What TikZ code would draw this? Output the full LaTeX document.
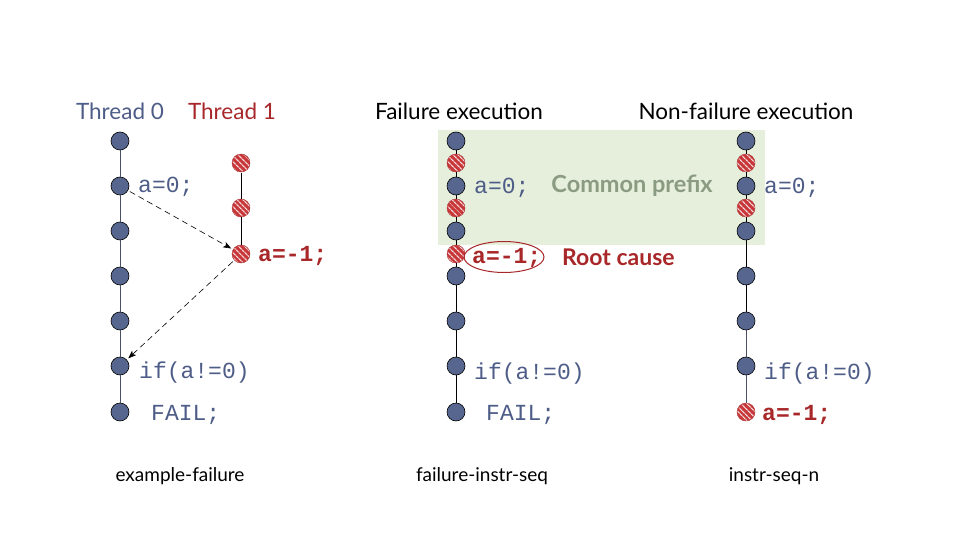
\documentclass[tikz,border=0pt]{standalone}
\usepackage{fontspec}
\setmainfont{Lato}
\setmonofont{Liberation Mono}
\usetikzlibrary{patterns,patterns.meta,shapes.geometric,arrows.meta}
\definecolor{nodeblue}{HTML}{56668E}
\definecolor{txtblue}{HTML}{4E5D87}
\definecolor{darkred}{HTML}{A8282A}
\definecolor{hatchred}{HTML}{C8383A}
\definecolor{prefixbg}{HTML}{E6EEDC}
\definecolor{prefixtxt}{HTML}{8A9B82}
\definecolor{threadline}{HTML}{4A5060}
\tikzset{
  bnode/.style={circle,draw=black,line width=0.6pt,fill=nodeblue,minimum size=18pt,inner sep=0pt},
  rnode/.style={circle,draw=hatchred!85!black,line width=0.4pt,minimum size=18pt,inner sep=0pt,preaction={fill=hatchred},pattern={Lines[angle=-45,distance=4pt,line width=1.3pt]},pattern color=white!80!hatchred},
  codeb/.style={font=\fontsize{23}{26}\selectfont\ttfamily,text=txtblue,anchor=west,inner sep=0pt},
  coder/.style={font=\fontsize{23}{26}\selectfont\ttfamily\bfseries,text=darkred,anchor=west,inner sep=0pt},
  title/.style={font=\fontsize{22.5}{26}\selectfont,inner sep=0pt},
  caption/.style={font=\fontsize{19}{22}\selectfont,inner sep=0pt},
  tline/.style={line width=0.8pt},
  msg/.style={dash pattern=on 6pt off 4pt,line width=0.6pt,-{Stealth[length=8pt,width=6pt,inset=2pt]},shorten >=2pt,shorten <=2pt}
}
\begin{document}
\begin{tikzpicture}[x=1pt,y=-1pt]
\useasboundingbox (0,0) rectangle (960,540);
% prefix box
\node[fill=prefixbg,minimum width=327pt,minimum height=115pt,inner sep=0pt,anchor=north west] (prefix) at (438,130) {};
\node[font=\fontsize{23.5}{27}\selectfont\bfseries,text=prefixtxt,inner sep=0pt] (cp) at (632,186) {Common prefix};

% titles
\node[title,text=txtblue] (th0) at (120,111) {Thread 0};
\node[title,text=darkred] (th1) at (232,111) {Thread 1};
\node[title] (fe) at (459,111) {Failure execution};
\node[title] (nfe) at (746,111) {Non-failure execution};

% Thread 0
\foreach \n/\y in {a/141,b/186,c/231,d/276,e/321,f/366,g/412}
  \node[bnode] (t0\n) at (120,\y) {};
\draw[tline,threadline] (t0a) -- (t0b) -- (t0c) -- (t0d) -- (t0e) -- (t0f) -- (t0g);
% Thread 1
\foreach \n/\y in {a/163,b/208,c/254}
  \node[rnode] (t1\n) at (241,\y) {};
\draw[tline,black] (t1a) -- (t1b) -- (t1c);

\node[codeb] (l1) at (138,187) {a=0;};
\node[coder] (l2) at (258,256) {a=-1;};
\node[codeb] (l3) at (139,373) {if(a!=0)};
\node[codeb] (l4) at (151,415) {FAIL;};
\draw[msg] (t0b) -- (t1c);
\draw[msg] (t1c) -- (t0f);
\node[caption] (c1) at (180,476) {example-failure};

% Middle column
\foreach \n/\y/\s in {1/141/bnode,2/163/rnode,3/186/bnode,4/208/rnode,5/231/bnode,6/254/rnode,7/276/bnode,8/321/bnode,9/366/bnode,10/412/bnode}
  \node[\s] (m\n) at (456,\y) {};
\draw[tline,black] (m1) -- (m2) -- (m3) -- (m4) -- (m5) -- (m6) -- (m7) -- (m8) -- (m9) -- (m10);
\node[codeb] (ml1) at (474,188) {a=0;};
\node[coder] (ml2) at (472,258) {a=-1;};
\node[ellipse,draw=darkred,line width=1pt,minimum width=80pt,minimum height=31pt,inner sep=0pt] (rootell) at (504,257) {};
\node[font=\fontsize{23}{26}\selectfont\bfseries,text=darkred,anchor=west,inner sep=0pt] (rc) at (562,257) {Root cause};
\node[codeb] (ml3) at (474,374) {if(a!=0)};
\node[codeb] (ml4) at (486,415) {FAIL;};
\node[caption] (c2) at (482,476) {failure-instr-seq};

% Right column
\foreach \n/\y/\s in {1/141/bnode,2/163/rnode,3/186/bnode,4/208/rnode,5/231/bnode,6/276/bnode,7/321/bnode,8/366/bnode,9/412/rnode}
  \node[\s] (r\n) at (746,\y) {};
\draw[tline,black] (r1) -- (r2) -- (r3) -- (r4) -- (r5) -- (r6) -- (r7);
\draw[tline,threadline] (r7) -- (r8) -- (r9);
\node[codeb] (rl1) at (764,188) {a=0;};
\node[codeb] (rl3) at (764,374) {if(a!=0)};
\node[coder] (rl4) at (762,415) {a=-1;};
\node[caption] (c3) at (774,476) {instr-seq-n};
\end{tikzpicture}
\end{document}
